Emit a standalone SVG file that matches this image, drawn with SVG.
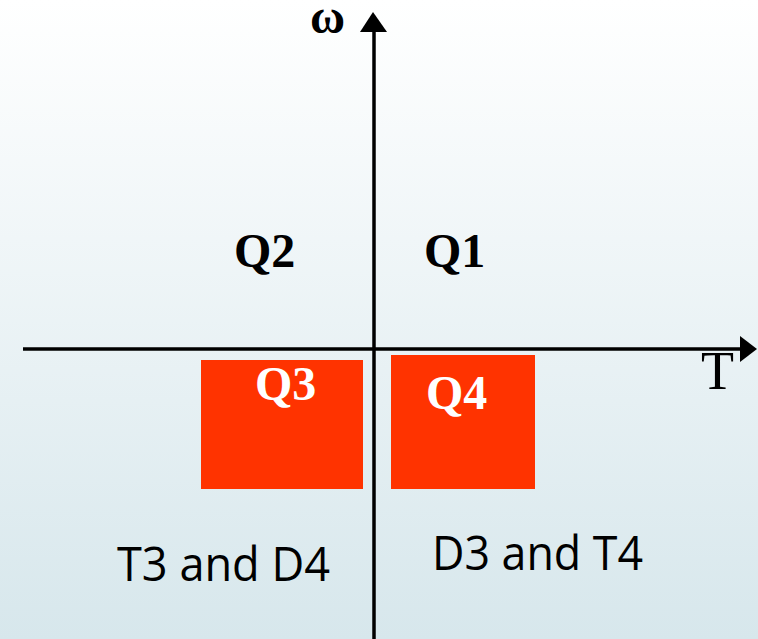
<svg xmlns="http://www.w3.org/2000/svg" width="758" height="639" viewBox="0 0 758 639">
  <defs>
    <linearGradient id="bg" x1="0" y1="0" x2="0" y2="1">
      <stop offset="0" stop-color="#ffffff"/>
      <stop offset="1" stop-color="#d7e7ec"/>
    </linearGradient>
  </defs>
  <style>
    .axis { stroke: #000; stroke-width: 3.5; fill: none; }
    .head { fill: #000; }
    .quad { fill: #ff3300; }
    .qlabel { font-family: "Liberation Serif", "Times New Roman", serif; font-weight: bold; font-size: 48px; }
    .axlabel { font-family: "Liberation Serif", "Times New Roman", serif; }
    .mode { font-family: "Open Sans", "Noto Sans", "DejaVu Sans", sans-serif; font-size: 48px; fill: #000; }
  </style>

  <rect x="0" y="0" width="758" height="639" fill="url(#bg)"/>

  <!-- operating regions for quadrants 3 and 4 -->
  <g id="q3-box">
    <rect class="quad" x="201" y="360" width="162" height="129"/>
    <text class="qlabel" x="255" y="400" fill="#fff">Q3</text>
  </g>
  <g id="q4-box">
    <rect class="quad" x="391" y="355" width="144" height="134"/>
    <text class="qlabel" x="426" y="409" fill="#fff">Q4</text>
  </g>

  <!-- torque / speed axes -->
  <g id="axes">
    <line class="axis" x1="374" y1="28" x2="374" y2="639"/>
    <polygon class="head" points="373,12 360,32 387,32"/>
    <line class="axis" x1="23" y1="349" x2="742" y2="349"/>
    <polygon class="head" points="757,349 740,336 740,362"/>
  </g>

  <g id="omega-label">
    <text class="axlabel" x="310" y="33" font-size="48" font-weight="bold">ω</text>
  </g>
  <g id="torque-label">
    <text class="axlabel" x="701" y="389" font-size="54">T</text>
  </g>

  <g id="q2-label">
    <text class="qlabel" x="234" y="267" fill="#000">Q2</text>
  </g>
  <g id="q1-label">
    <text class="qlabel" x="424" y="267" fill="#000">Q1</text>
  </g>

  <g id="q3-devices">
    <text class="mode" x="117" y="581" textLength="213" lengthAdjust="spacingAndGlyphs">T3 and D4</text>
  </g>
  <g id="q4-devices">
    <text class="mode" x="432" y="570" textLength="211" lengthAdjust="spacingAndGlyphs">D3 and T4</text>
  </g>
</svg>
